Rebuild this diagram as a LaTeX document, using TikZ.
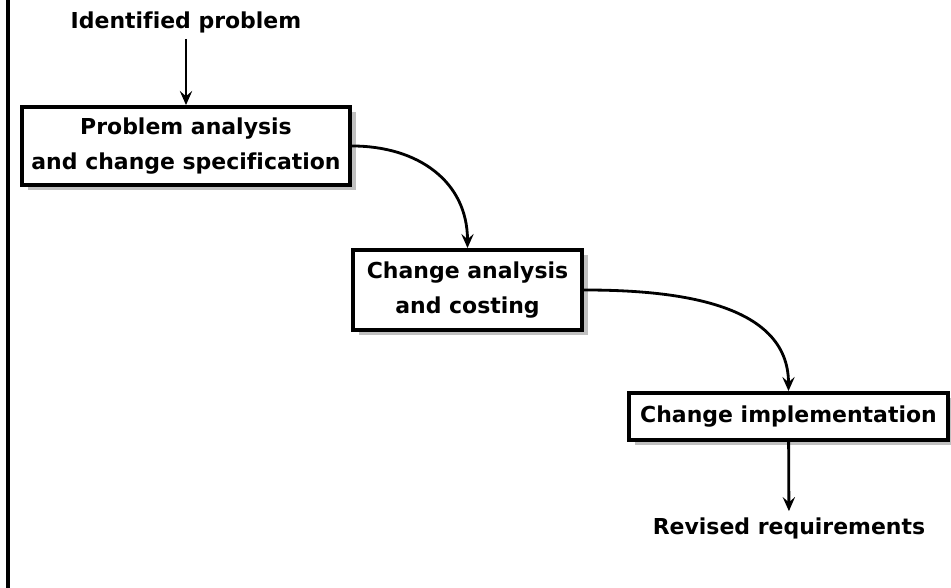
\documentclass[tikz,border=0pt]{standalone}
\usepackage{fontspec}
\setmainfont[Ligatures=NoCommon]{DejaVu Sans}
\usetikzlibrary{shadows,arrows.meta}

\begin{document}
\begin{tikzpicture}[
    font=\bfseries\fontsize{12.5}{19.5}\selectfont,
    stagebox/.style={draw, line width=2.2pt, fill=white, align=center,
        inner sep=0pt,
        drop shadow={shadow xshift=0.11cm, shadow yshift=-0.11cm, fill=black!45, opacity=0.55}},
    flowarrow/.style={line width=1.6pt, -{Stealth[length=8pt, width=7pt, inset=3pt]}}
]
    % Frame of the picture
    \useasboundingbox (0, 0) rectangle (19.02, 11.76);
    \draw[line width=2pt] (0.16, 0) -- (0.16, 11.76);

    % Input and output texts
    \node (ident) at (3.72, 11.32) {Identified problem};
    \node (revised) at (15.78, 1.2) {Revised requirements};

    % Process stages
    \node[stagebox, minimum width=6.56cm, minimum height=1.56cm] (analysis) at (3.72, 8.84)
        {Problem analysis\\and change specification};
    \node[stagebox, minimum width=4.58cm, minimum height=1.6cm] (costing) at (9.35, 5.96)
        {Change analysis\\and costing};
    \node[stagebox, minimum width=6.38cm, minimum height=0.94cm] (impl) at (15.77, 3.43)
        {Change implementation};

    % Connectors
    \draw[flowarrow] (ident) -- (analysis);
    \draw[flowarrow] (analysis.east) to[out=0, in=90, looseness=1.1] (costing.north);
    \draw[flowarrow] (costing.east) to[out=0, in=90] (impl.north);
    \draw[flowarrow] (impl) -- (revised);
\end{tikzpicture}
\end{document}
